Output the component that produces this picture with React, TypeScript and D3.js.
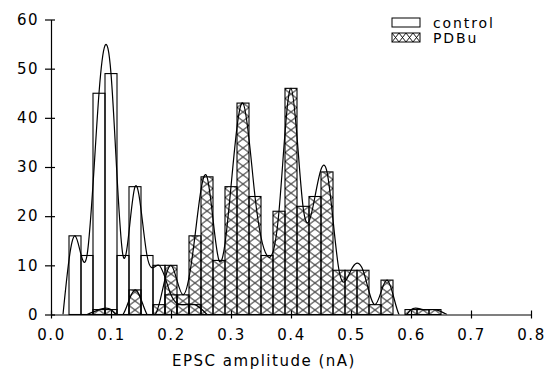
import * as React from 'react';
import * as d3 from 'd3';

// bin left edges (nA), bin width 0.02
const controlBins = [0.01, 0.03, 0.05, 0.07, 0.09, 0.11, 0.13, 0.15, 0.17, 0.19, 0.21, 0.23, 0.25];
const controlCounts = [0, 16, 12, 45, 49, 12, 26, 12, 10, 4, 2, 2, 0];

const pdbuBins = [
  0.05, 0.07, 0.09, 0.11, 0.13, 0.15, 0.17, 0.19, 0.21, 0.23, 0.25, 0.27, 0.29, 0.31, 0.33, 0.35,
  0.37, 0.39, 0.41, 0.43, 0.45, 0.47, 0.49, 0.51, 0.53, 0.55, 0.57, 0.59, 0.61, 0.63, 0.65,
];
const pdbuCounts = [
  0, 1, 1, 0, 5, 0, 2, 10, 4, 16, 28, 11, 26, 43, 24, 12,
  21, 46, 22, 24, 29, 9, 9, 9, 2, 7, 0, 1, 1, 1, 0,
];
const binWidth = 0.02;

const xTicks = [0, 0.1, 0.2, 0.3, 0.4, 0.5, 0.6, 0.7, 0.8];
const yTicks = [0, 10, 20, 30, 40, 50, 60];

const legendLabels = ['control', 'PDBu'];
const xLabel = 'EPSC amplitude (nA)';

const FONT = '"DejaVu Sans", sans-serif';

export default function App() {
  const ref = React.useRef<SVGSVGElement>(null);

  React.useEffect(() => {
    const width = 554;
    const height = 373;
    const svg = d3.select(ref.current!);
    svg.selectAll('*').remove();

    const x = d3.scaleLinear().domain([0, 0.8]).range([51, 531]);
    const y = d3.scaleLinear().domain([0, 60]).range([314.5, 19.5]);

    const defs = svg.append('defs');
    const hatch = defs.append('pattern')
      .attr('id', 'xhatch')
      .attr('patternUnits', 'userSpaceOnUse')
      .attr('x', x(0.01))
      .attr('y', y(0))
      .attr('width', 12)
      .attr('height', 9);
    hatch.append('path')
      .attr('d', 'M0,0L12,9M12,0L0,9')
      .attr('stroke', '#000')
      .attr('stroke-width', 1)
      .attr('fill', 'none');

    const hatchSmall = defs.append('pattern')
      .attr('id', 'xhatch-legend')
      .attr('patternUnits', 'userSpaceOnUse')
      .attr('x', 392)
      .attr('y', 33)
      .attr('width', 7)
      .attr('height', 9);
    hatchSmall.append('path')
      .attr('d', 'M0,0L7,9M7,0L0,9')
      .attr('stroke', '#000')
      .attr('stroke-width', 0.9)
      .attr('fill', 'none');

    defs.append('clipPath').attr('id', 'plot-clip')
      .append('rect')
      .attr('x', x(0))
      .attr('y', 0)
      .attr('width', x(0.8) - x(0))
      .attr('height', y(0));

    svg.append('rect').attr('width', width).attr('height', height).attr('fill', '#fff');

    const pdbu = pdbuBins.map((b, i) => ({ b, c: pdbuCounts[i] }));
    const control = controlBins.map((b, i) => ({ b, c: controlCounts[i] }));

    svg.append('g')
      .selectAll('rect')
      .data(pdbu.filter(d => d.c > 0))
      .enter().append('rect')
      .attr('x', d => x(d.b))
      .attr('width', d => x(d.b + binWidth) - x(d.b))
      .attr('y', d => y(d.c))
      .attr('height', d => y(0) - y(d.c))
      .attr('fill', 'url(#xhatch)')
      .attr('stroke', '#000')
      .attr('stroke-width', 1.1);

    svg.append('g')
      .selectAll('rect')
      .data(control.filter(d => d.c > 0))
      .enter().append('rect')
      .attr('x', d => x(d.b))
      .attr('width', d => x(d.b + binWidth) - x(d.b))
      .attr('y', d => y(d.c))
      .attr('height', d => y(0) - y(d.c))
      .attr('fill', 'none')
      .attr('stroke', '#000')
      .attr('stroke-width', 1.1);

    // smoothed fits through the bin centres
    const line = d3.line<{ b: number; c: number }>()
      .x(d => x(d.b + binWidth / 2))
      .y(d => y(d.c))
      .curve(d3.curveNatural);

    const curves = svg.append('g').attr('clip-path', 'url(#plot-clip)');
    [control, pdbu].forEach(series => {
      curves.append('path')
        .attr('d', line(series))
        .attr('fill', 'none')
        .attr('stroke', '#000')
        .attr('stroke-width', 1.2);
    });

    // axes
    const xAxis = svg.append('g')
      .attr('transform', `translate(0,${y(0)})`)
      .call(d3.axisBottom(x).tickValues(xTicks).tickFormat(d3.format('.1f')).tickSize(4).tickPadding(11).tickSizeOuter(0));
    xAxis.selectAll('.tick line').attr('y1', -4).attr('stroke-width', 1.2);
    xAxis.select('.domain').attr('stroke-width', 1.2);

    const yAxis = svg.append('g')
      .attr('transform', `translate(${x(0)},0)`)
      .call(d3.axisLeft(y).tickValues(yTicks).tickSize(6).tickPadding(6).tickSizeOuter(0));
    yAxis.selectAll('.tick line').attr('x1', 4).attr('stroke-width', 1.2);
    yAxis.select('.domain').attr('stroke-width', 1.2);

    svg.selectAll('.tick text')
      .attr('font-family', FONT)
      .attr('font-size', 15)
      .attr('letter-spacing', 1.5)
      .attr('fill', '#000');
    svg.selectAll('g').attr('font-family', FONT);

    svg.append('text')
      .attr('x', 264)
      .attr('y', 366)
      .attr('text-anchor', 'middle')
      .attr('font-family', FONT)
      .attr('font-size', 15)
      .attr('letter-spacing', 1.5)
      .text(xLabel);

    // legend
    const legend = svg.append('g');
    legendLabels.forEach((label, i) => {
      legend.append('rect')
        .attr('x', 392)
        .attr('y', 18 + i * 15)
        .attr('width', 28)
        .attr('height', 9)
        .attr('fill', i === 0 ? 'none' : 'url(#xhatch-legend)')
        .attr('stroke', '#000')
        .attr('stroke-width', 1);
      legend.append('text')
        .attr('x', 433)
        .attr('y', 27.5 + i * 15)
        .attr('font-family', FONT)
        .attr('font-size', 14)
        .attr('letter-spacing', 1.9)
        .text(label);
    });
  }, []);

  return (
    <svg ref={ref} width={554} height={373} style={{ position: 'absolute', left: 0, top: 0 }}></svg>
  );
}
